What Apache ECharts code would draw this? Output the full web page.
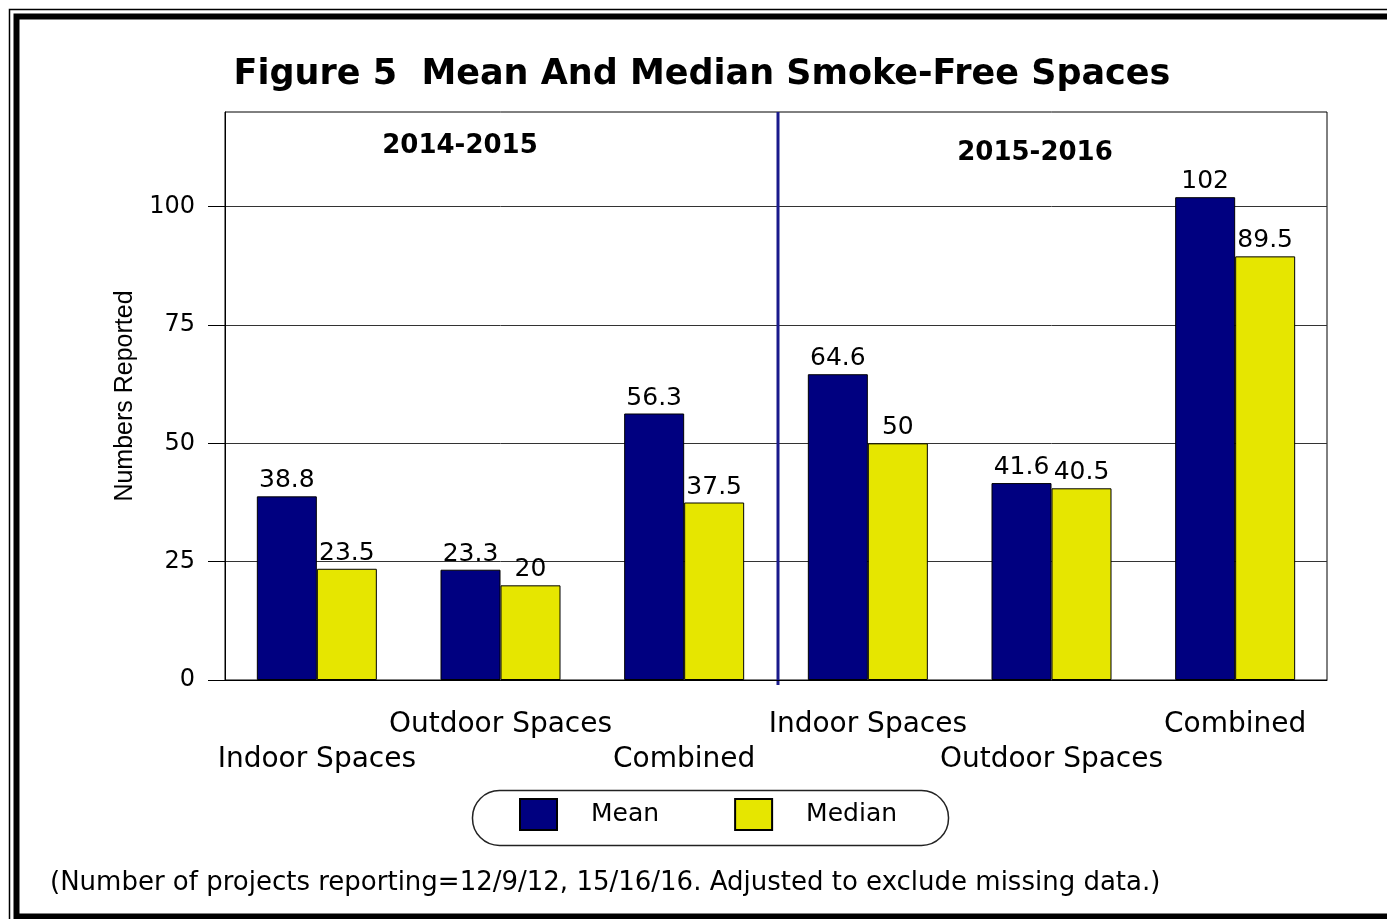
<!DOCTYPE html>
<html>
<head>
<meta charset="utf-8">
<title>Figure 5</title>
<script src="https://cdn.jsdelivr.net/npm/echarts@6/dist/echarts.min.js"></script>
<style>
  html, body { margin: 0; padding: 0; background: #fff; }
  #main { width: 1387px; height: 919px; }
</style>
</head>
<body>
<div id="main"></div>
<script>
  // data
  var categories = ['Indoor Spaces', 'Outdoor Spaces', 'Combined', 'Indoor Spaces', 'Outdoor Spaces', 'Combined'];
  var meanValues = [38.8, 23.3, 56.3, 64.6, 41.6, 102];
  var medianValues = [23.5, 20, 37.5, 50, 40.5, 89.5];
  var periods = ['2014-2015', '2015-2016'];
  var yTicks = [0, 25, 50, 75, 100];

  var chart = echarts.init(document.getElementById('main'));

  chart.setOption({
    animation: false,
    backgroundColor: '#fff',
    textStyle: { fontFamily: 'DejaVu Sans', color: '#000' },
    title: {
      text: 'Figure 5  Mean And Median Smoke-Free Spaces',
      left: 697,
      top: 52,
      textAlign: 'center',
      textStyle: { fontFamily: 'DejaVu Sans', fontWeight: 'bold', fontSize: 35, color: '#000' }
    },
    grid: {
      left: 225,
      top: 112,
      width: 1102,
      height: 568,
      show: true,
      borderColor: '#000',
      borderWidth: 1
    },
    legend: {
      data: ['Mean', 'Median'],
      left: 519,
      top: 798,
      padding: 0,
      icon: 'rect',
      itemWidth: 37,
      itemHeight: 31,
      itemGap: 75,
      textStyle: { fontSize: 25, color: '#000', padding: [0, 0, 0, 29] }
    },
    xAxis: [{
      type: 'category',
      data: categories,
      axisLine: { lineStyle: { color: '#000', width: 1 } },
      axisTick: {
        alignWithLabel: true,
        length: 52,
        interval: function (i) { return i % 2 === 0; },
        lineStyle: { color: '#000' }
      },
      axisLabel: {
        interval: 0,
        margin: 27,
        fontSize: 28,
        lineHeight: 35,
        color: '#000',
        formatter: function (value, index) {
          return index % 2 === 0 ? '\n' + value : value;
        }
      }
    }, {
      type: 'category',
      data: categories,
      position: 'bottom',
      axisLine: { show: false },
      axisLabel: { show: false },
      axisTick: {
        alignWithLabel: true,
        length: 17,
        interval: function (i) { return i % 2 === 1; },
        lineStyle: { color: '#000' }
      }
    }],
    yAxis: {
      type: 'value',
      min: 0,
      max: 120,
      interval: 25,
      name: 'Numbers Reported',
      nameLocation: 'middle',
      nameGap: 87,
      nameTextStyle: { fontFamily: 'Liberation Sans', fontSize: 25, color: '#000' },
      axisLine: { show: true, lineStyle: { color: '#000' } },
      axisTick: { show: true, length: 17, customValues: yTicks, lineStyle: { color: '#000' } },
      axisLabel: {
        fontSize: 24,
        margin: 30,
        color: '#000',
        customValues: yTicks
      },
      splitLine: { lineStyle: { color: '#333', width: 1 } }
    },
    series: [{
      name: 'Mean',
      type: 'bar',
      data: meanValues,
      barWidth: 60,
      barGap: '0%',
      itemStyle: { color: '#000080', borderColor: '#000', borderWidth: 1 },
      label: { show: true, position: 'top', distance: 3, fontSize: 25, color: '#000' }
    }, {
      name: 'Median',
      type: 'bar',
      data: medianValues,
      barWidth: 60,
      barGap: '0%',
      itemStyle: { color: '#e6e600', borderColor: '#000', borderWidth: 1 },
      label: { show: true, position: 'top', distance: 3, fontSize: 25, color: '#000' }
    }]
  });

  // divider between the two periods, placed from the axis scale
  var xa = chart.convertToPixel({ xAxisIndex: 0 }, 2);
  var xb = chart.convertToPixel({ xAxisIndex: 0 }, 3);
  var xMid = (xa + xb) / 2;
  var yTop = chart.convertToPixel({ yAxisIndex: 0 }, 120);
  var yBottom = chart.convertToPixel({ yAxisIndex: 0 }, 0);

  chart.setOption({
    graphic: [
      // page frame
      { type: 'rect', silent: true,
        shape: { x: 9.5, y: 9.5, width: 1400, height: 1400 },
        style: { fill: 'none', stroke: '#000', lineWidth: 1.5 } },
      { type: 'rect', silent: true,
        shape: { x: 16.5, y: 16.5, width: 1400, height: 900 },
        style: { fill: 'none', stroke: '#000', lineWidth: 6 } },
      // period divider
      { type: 'line', silent: true,
        shape: { x1: xMid + 2, y1: yTop, x2: xMid + 2, y2: yBottom + 5 },
        style: { stroke: '#1a1a8c', lineWidth: 3 } },
      // period headings
      { type: 'text', silent: true, x: 460, y: 146,
        style: { text: periods[0], font: 'bold 26px "DejaVu Sans"', fill: '#000', textAlign: 'center', textVerticalAlign: 'middle' } },
      { type: 'text', silent: true, x: 1035, y: 153,
        style: { text: periods[1], font: 'bold 26px "DejaVu Sans"', fill: '#000', textAlign: 'center', textVerticalAlign: 'middle' } },
      // legend frame
      { type: 'rect', silent: true,
        shape: { x: 472.5, y: 790.5, width: 476, height: 55, r: 27 },
        style: { fill: 'none', stroke: '#222', lineWidth: 1.5 } },
      // note
      { type: 'text', silent: true, x: 50, y: 883,
        style: { text: '(Number of projects reporting=12/9/12, 15/16/16. Adjusted to exclude missing data.)',
          font: '26px "DejaVu Sans"', fill: '#000', textAlign: 'left', textVerticalAlign: 'middle' } }
    ]
  });
</script>
</body>
</html>
